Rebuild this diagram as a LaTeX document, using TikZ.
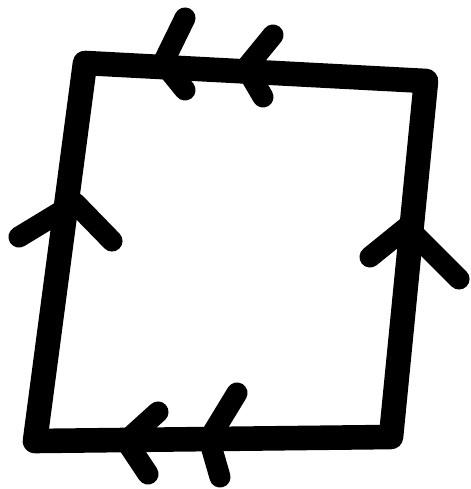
\documentclass[tikz,border=0pt]{standalone}
\usetikzlibrary{calc}
\tikzset{
  lado/.style={line width=14pt, line cap=round, line join=round, black},
  ponta/.style={line width=12pt, line cap=round, line join=round, black},
}
\begin{document}
\begin{tikzpicture}[x=0.02cm, y=-0.02cm]
  \useasboundingbox (0,0) rectangle (470,489);
  % cantos do quadrado
  \coordinate (tl) at (85,63);
  \coordinate (tr) at (426,81);
  \coordinate (br) at (391,437);
  \coordinate (bl) at (35,441);
  \draw[lado] (tl) -- (tr) -- (br) -- (bl) -- cycle;

  % setas duplas em cima
  \draw[ponta] (185,18) -- (163,63) -- (185,90);
  \draw[ponta] (273,35) -- (246,68) -- (263,97);
  % setas duplas embaixo
  \draw[ponta] (158,412) -- (126,441) -- (148,474);
  \draw[ponta] (237,393) -- (209,439) -- (220,477);
  % setas simples nos lados
  \draw[ponta] (19,237) -- (75,203) -- (112,241);
  \draw[ponta] (370,257) -- (407,227) -- (459,279);
\end{tikzpicture}
\end{document}
